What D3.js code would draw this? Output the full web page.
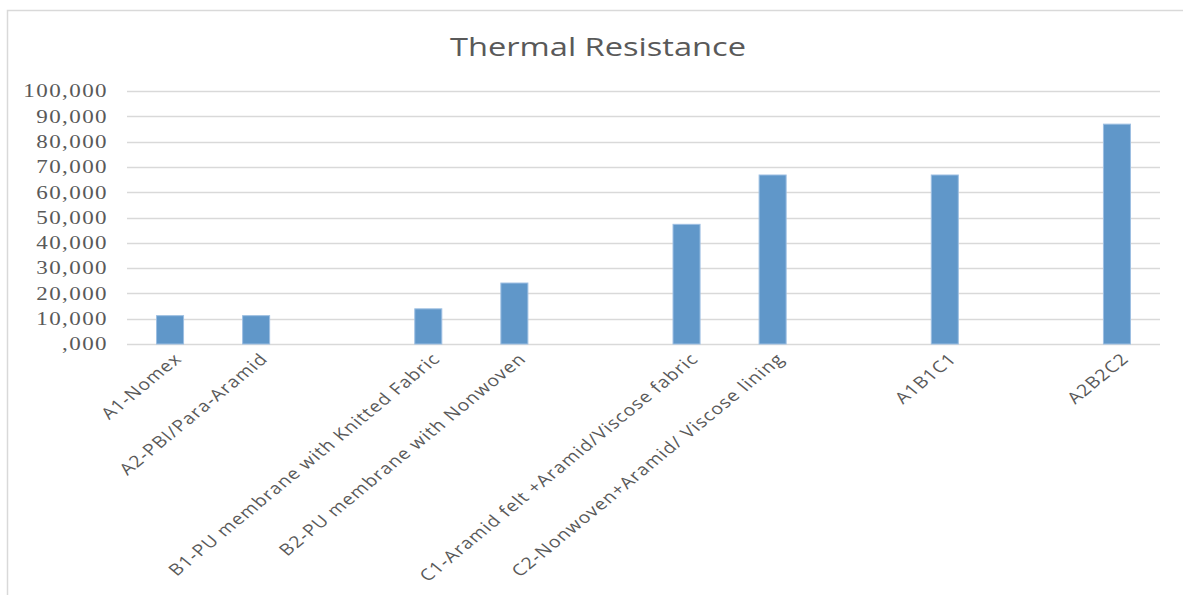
<!DOCTYPE html>
<html>
<head>
<meta charset="utf-8">
<script src="https://cdn.jsdelivr.net/npm/d3@7"></script>
<style>
  html, body { margin: 0; padding: 0; background: #ffffff; }
  svg { display: block; }
</style>
</head>
<body>
<svg id="chart" width="1183" height="595"></svg>
<script>
const chartTitle = "Thermal Resistance";
const categories = [
  "A1-Nomex",
  "A2-PBI/Para-Aramid",
  "",
  "B1-PU membrane with Knitted Fabric",
  "B2-PU membrane with Nonwoven",
  "",
  "C1-Aramid felt +Aramid/Viscose fabric",
  "C2-Nonwoven+Aramid/ Viscose lining",
  "",
  "A1B1C1",
  "",
  "A2B2C2"
];
const values = [11200, 11200, null, 13900, 24100, null, 47300, 66800, null, 66800, null, 86900];
const tickValues = [0, 10000, 20000, 30000, 40000, 50000, 60000, 70000, 80000, 90000, 100000];
const tickLabels = [",000", "10,000", "20,000", "30,000", "40,000", "50,000", "60,000", "70,000", "80,000", "90,000", "100,000"];

const W = 1183, H = 595;
const sx = 1.28;   // horizontal stretch of the original picture's text
const sxLab = 1.22;
const plot = { left: 127, right: 1160, top: 91, bottom: 344 };

const svg = d3.select("#chart");

// frame
svg.append("rect").attr("x", 0).attr("y", 0).attr("width", W).attr("height", H).attr("fill", "#ffffff");
svg.append("path")
  .attr("d", `M7.5,${H} L7.5,10.5 L${W},10.5`)
  .attr("fill", "none").attr("stroke", "#d9d9d9").attr("stroke-width", 1.5);

const idx = categories.map((d, i) => i);
const x = d3.scaleBand().domain(idx).range([plot.left, plot.right]).paddingInner(0.686).paddingOuter(0.343);
const y = d3.scaleLinear().domain([0, 100000]).range([plot.bottom, plot.top]);

// gridlines
svg.append("g").selectAll("line").data(tickValues).join("line")
  .attr("x1", plot.left).attr("x2", plot.right)
  .attr("y1", d => Math.round(y(d)) + 0.5).attr("y2", d => Math.round(y(d)) + 0.5)
  .attr("stroke", "#d9d9d9").attr("stroke-width", 1.5);

// y tick labels
svg.append("g").selectAll("text").data(tickValues).join("text")
  .attr("transform", d => `translate(108,${y(d)}) scale(${sx},1)`)
  .attr("text-anchor", "end").attr("dy", "0.35em")
  .attr("font-family", "'Liberation Serif', 'DejaVu Serif', serif")
  .attr("font-size", 18).attr("letter-spacing", 1.1)
  .attr("fill", "#595959")
  .text((d, i) => tickLabels[i]);

// bars
const barData = idx.filter(i => values[i] != null);
svg.append("g").selectAll("rect").data(barData).join("rect")
  .attr("x", i => x(i)).attr("width", x.bandwidth())
  .attr("y", i => y(values[i])).attr("height", i => y(0) - y(values[i]))
  .attr("fill", "#6097c9").attr("stroke", "#9dbfe2").attr("stroke-width", 1);

// category labels
svg.append("g").selectAll("text").data(idx.filter(i => categories[i] !== "")).join("text")
  .attr("transform", i => `translate(${x(i) + x.bandwidth() / 2 + 8},${plot.bottom + 12}) scale(${sxLab},1) rotate(-45)`)
  .attr("text-anchor", "end").attr("dy", "0.35em")
  .attr("font-family", "'Open Sans', 'Noto Sans', sans-serif")
  .attr("font-size", 16).attr("letter-spacing", 0.9)
  .attr("fill", "#595959")
  .text(i => categories[i]);

// title
svg.append("text")
  .attr("transform", `translate(598,56) scale(${sx},1)`)
  .attr("text-anchor", "middle")
  .attr("font-family", "'Open Sans', 'Noto Sans', sans-serif")
  .attr("font-size", 25.5)
  .attr("fill", "#595959")
  .text(chartTitle);
</script>
</body>
</html>
